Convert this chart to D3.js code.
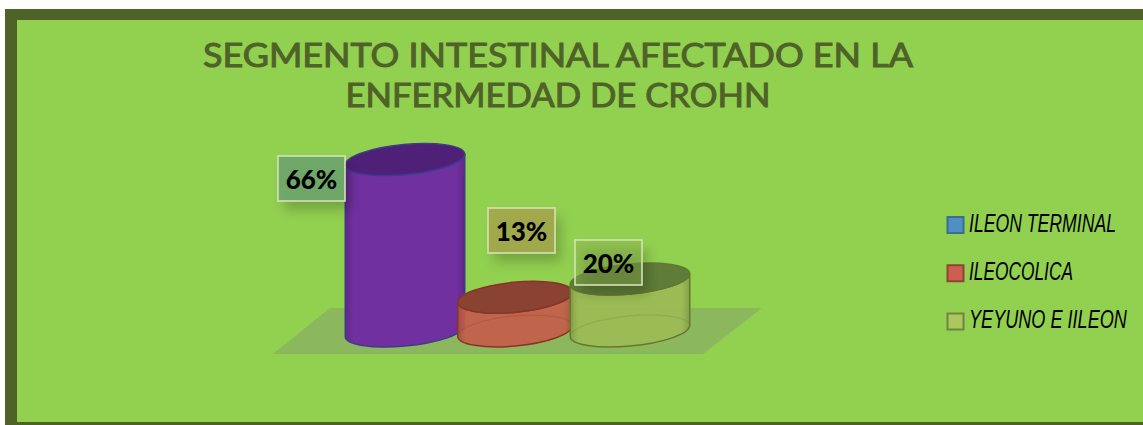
<!DOCTYPE html>
<html><head><meta charset="utf-8">
<script src="https://cdn.jsdelivr.net/npm/d3@7"></script>
<style>html,body{margin:0;padding:0;background:#fff;overflow:hidden}svg{display:block}</style>
</head><body><svg id="c" width="1143" height="425"></svg>
<script>
const titleLines = ["SEGMENTO INTESTINAL AFECTADO EN LA", "ENFERMEDAD DE CROHN"];
const categories = ["ILEON TERMINAL", "ILEOCOLICA", "YEYUNO E IILEON"];
const values = [66, 13, 20];
const valueLabels = ["66%", "13%", "20%"];
const swatchFill = ["#4f8fc4", "#cc5f50", "#abc75f"];
const swatchStroke = ["#3c6d8f", "#8f4238", "#6f8440"];
const sideFill = ["#7030a0", "#c3604b", "#9cbb55"];
const sideStroke = ["#3f3a8c", "#8a3328", "#64792f"];
const topFill = ["#4e2078", "#8a4232", "#5f7c38"];
const labelFill = ["#6ea66a", "#a3a84c", "#8cb450"];

const svg = d3.select("#c");
const defs = svg.append("defs");
defs.append("filter").attr("id","sh").attr("x","-40%").attr("y","-40%").attr("width","200%").attr("height","200%")
  .append("feGaussianBlur").attr("stdDeviation",6);
sideFill.forEach((c,i)=>{
  const g = defs.append("linearGradient").attr("id","g"+i);
  g.append("stop").attr("offset","0").attr("stop-color",d3.color(c).darker(0.45));
  g.append("stop").attr("offset","0.07").attr("stop-color",c);
  g.append("stop").attr("offset","0.93").attr("stop-color",c);
  g.append("stop").attr("offset","1").attr("stop-color",d3.color(c).darker(0.45));
});

// frame
svg.append("rect").attr("x",5).attr("y",9).attr("width",1138).attr("height",416).attr("fill","#4f6228");
svg.append("rect").attr("x",17).attr("y",20).attr("width",1126).attr("height",402).attr("fill","#92d050");

// title
const titleX = d3.scalePoint().domain(titleLines).range([66.5,106.5]);
const titleW = [710, 425];
svg.selectAll("text.title").data(titleLines).join("text").attr("class","title")
  .attr("x",558).attr("y",d=>titleX(d)).attr("text-anchor","middle")
  .attr("textLength",(d,i)=>titleW[i]).attr("lengthAdjust","spacingAndGlyphs")
  .attr("font-family","Lato").attr("font-size",33).attr("fill","#4f6228")
  .attr("stroke","#4f6228").attr("stroke-width",1).text(d=>d);

// scales
const x = d3.scalePoint().domain(categories).range([405,630]);
const y = d3.scaleLinear().domain([0,66]).range([331,159.5]);

// floor
svg.append("path").attr("d","M273,354L330,308L762,308L703,354Z").attr("fill","#8bb85c");

// cylinders
const tilt = -5.5*Math.PI/180, rx=[60,57.5,60], ry=15, nudge=[0,-2.5,0];
function pt(cx,cy,a,b,t){return [cx+a*Math.cos(t)*Math.cos(tilt)-b*Math.sin(t)*Math.sin(tilt),
                                  cy+a*Math.cos(t)*Math.sin(tilt)+b*Math.sin(t)*Math.cos(tilt)];}
const deg = tilt*180/Math.PI;
categories.forEach((c,i)=>{
  const cx=x(c)+nudge[i], top=y(values[i]), base=y(0), a=rx[i];
  const t0=Math.atan(-(ry/a)*Math.tan(tilt));
  const R0=pt(cx,top,a,ry,t0), L0=pt(cx,top,a,ry,t0+Math.PI);
  const R1=pt(cx,base,a,ry,t0), L1=pt(cx,base,a,ry,t0+Math.PI);
  const g=svg.append("g");
  g.append("path")
    .attr("d",`M${L0}L${L1}A${a},${ry} ${deg} 0 0 ${R1}L${R0}A${a},${ry} ${deg} 0 1 ${L0}Z`)
    .attr("fill",`url(#g${i})`).attr("fill-opacity",i==0?1:0.94)
    .attr("stroke",sideStroke[i]).attr("stroke-width",1.5);
  if(i>0) g.append("path").attr("d",`M${L1}A${a},${ry} ${deg} 0 1 ${R1}`)
    .attr("fill","none").attr("stroke",sideStroke[i]).attr("stroke-opacity",0.22).attr("stroke-width",1.2);
  g.append("ellipse").attr("cx",cx).attr("cy",top).attr("rx",a).attr("ry",ry)
    .attr("transform",`rotate(${deg} ${cx} ${top})`)
    .attr("fill",topFill[i]).attr("stroke",sideStroke[i]).attr("stroke-width",1.5);
});

// data labels
const boxX=[278,488,575], boxY=[156,208,240], boxW=67, boxH=45;
svg.selectAll("rect.sh").data(values).join("rect").attr("class","sh")
  .attr("x",(d,i)=>boxX[i]+6).attr("y",(d,i)=>boxY[i]+9).attr("width",boxW).attr("height",boxH)
  .attr("fill","#000").attr("fill-opacity",0.2).attr("filter","url(#sh)");
svg.selectAll("rect.lb").data(values).join("rect").attr("class","lb")
  .attr("x",(d,i)=>boxX[i]).attr("y",(d,i)=>boxY[i]).attr("width",boxW).attr("height",boxH)
  .attr("fill",(d,i)=>labelFill[i]).attr("fill-opacity",(d,i)=>i==2?0.45:0.95)
  .attr("stroke","#d4e3b4").attr("stroke-width",1.6);
svg.selectAll("text.lb").data(valueLabels).join("text").attr("class","lb")
  .attr("x",(d,i)=>boxX[i]+boxW/2).attr("y",(d,i)=>boxY[i]+33).attr("text-anchor","middle")
  .attr("font-family","Lato").attr("font-weight",900).attr("font-size",26).attr("fill","#000").text(d=>d);

// legend
const ly=d3.scalePoint().domain(categories).range([225,321.5]);
const legW=[147,104,158];
categories.forEach((c,i)=>{
  svg.append("rect").attr("x",947.5).attr("y",ly(c)-8).attr("width",16).attr("height",16)
    .attr("fill",swatchFill[i]).attr("stroke",swatchStroke[i]).attr("stroke-width",2);
  const t=svg.append("text").attr("font-family","Liberation Sans").attr("font-style","italic")
    .attr("font-size",25).attr("fill","#000").text(c);
  const sx=legW[i]/t.node().getComputedTextLength();
  t.attr("transform",`translate(969,${ly(c)+6.5}) scale(${sx},1)`);
});
</script></body></html>
